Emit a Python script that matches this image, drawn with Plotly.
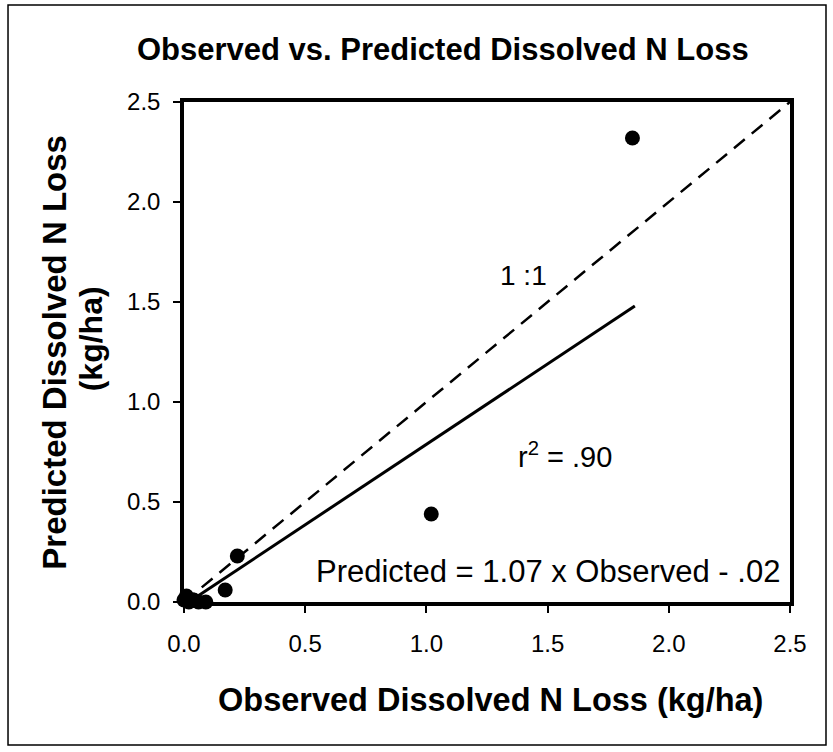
import plotly.graph_objects as go

# Data
observed = [1.85, 1.02, 0.22, 0.17, 0.00, 0.01, 0.02, 0.04, 0.06, 0.09]
predicted = [2.32, 0.44, 0.23, 0.06, 0.01, 0.03, 0.00, 0.01, 0.00, 0.00]

one_to_one_x = [0.0, 2.5]
one_to_one_y = [0.0, 2.5]

fit_x = [0.02, 1.86]
fit_y = [0.00, 1.48]

tick_vals = [0.0, 0.5, 1.0, 1.5, 2.0, 2.5]
tick_text = ["0.0", "0.5", "1.0", "1.5", "2.0", "2.5"]

FONT = "Liberation Sans, Arial, sans-serif"

fig = go.Figure()
fig.add_trace(go.Scatter(x=one_to_one_x, y=one_to_one_y, mode="lines",
                         line=dict(color="black", width=2.5, dash="14px,9px"),
                         showlegend=False, hoverinfo="skip"))
fig.add_trace(go.Scatter(x=fit_x, y=fit_y, mode="lines",
                         line=dict(color="black", width=3),
                         showlegend=False, hoverinfo="skip"))
fig.add_trace(go.Scatter(x=observed, y=predicted, mode="markers",
                         marker=dict(color="black", size=15),
                         showlegend=False, cliponaxis=False))

axis_common = dict(range=[0, 2.5], tickvals=tick_vals, ticktext=tick_text,
                   showgrid=False, zeroline=False, showline=True,
                   linecolor="black", linewidth=3.5, mirror=True,
                   ticks="outside", ticklen=7, tickwidth=1.5, tickcolor="black",
                   tickfont=dict(family=FONT, size=24, color="black"))

fig.update_xaxes(**axis_common, ticklabelstandoff=10)
fig.update_yaxes(**axis_common, ticklabelstandoff=8)

# titles
fig.add_annotation(xref="paper", yref="paper", x=0.427, y=1.104,
                   text="<b>Observed vs. Predicted Dissolved N Loss</b>",
                   showarrow=False, xanchor="center", yanchor="middle",
                   font=dict(family=FONT, size=31, color="black"))
fig.add_annotation(xref="paper", yref="paper", x=0.505, y=-0.196,
                   text="<b>Observed Dissolved N Loss (kg/ha)</b>",
                   showarrow=False, xanchor="center", yanchor="middle",
                   font=dict(family=FONT, size=32.5, color="black"))
fig.add_annotation(xref="paper", yref="paper", x=-0.215, y=0.5,
                   text="<b>Predicted Dissolved N Loss</b>", textangle=-90,
                   showarrow=False, xanchor="center", yanchor="middle",
                   font=dict(family=FONT, size=33, color="black"))
fig.add_annotation(xref="paper", yref="paper", x=-0.153, y=0.526,
                   text="<b>(kg/ha)</b>", textangle=-90,
                   showarrow=False, xanchor="center", yanchor="middle",
                   font=dict(family=FONT, size=32, color="black"))

# in-plot labels
fig.add_annotation(x=1.40, y=1.635, text="1 :1", showarrow=False,
                   font=dict(family=FONT, size=28, color="black"))
fig.add_annotation(x=1.57, y=0.735, text="r<sup>2</sup> = .90", showarrow=False,
                   font=dict(family=FONT, size=29, color="black"))
fig.add_annotation(x=1.50, y=0.155, text="Predicted = 1.07 x Observed - .02",
                   showarrow=False, font=dict(family=FONT, size=31, color="black"))

# outer frame around the whole figure
fig.add_shape(type="rect", xref="paper", yref="paper",
              x0=-0.2904, x1=1.0594, y0=-0.286, y1=1.194,
              line=dict(color="black", width=1.5), layer="below")

fig.update_layout(
    width=833, height=752,
    margin=dict(l=184, r=43, t=102, b=150),
    plot_bgcolor="white", paper_bgcolor="white",
    font=dict(family=FONT, color="black"),
)

fig.write_html("out.html", config={"displayModeBar": False},
               post_script="document.body.style.margin='0px';")
